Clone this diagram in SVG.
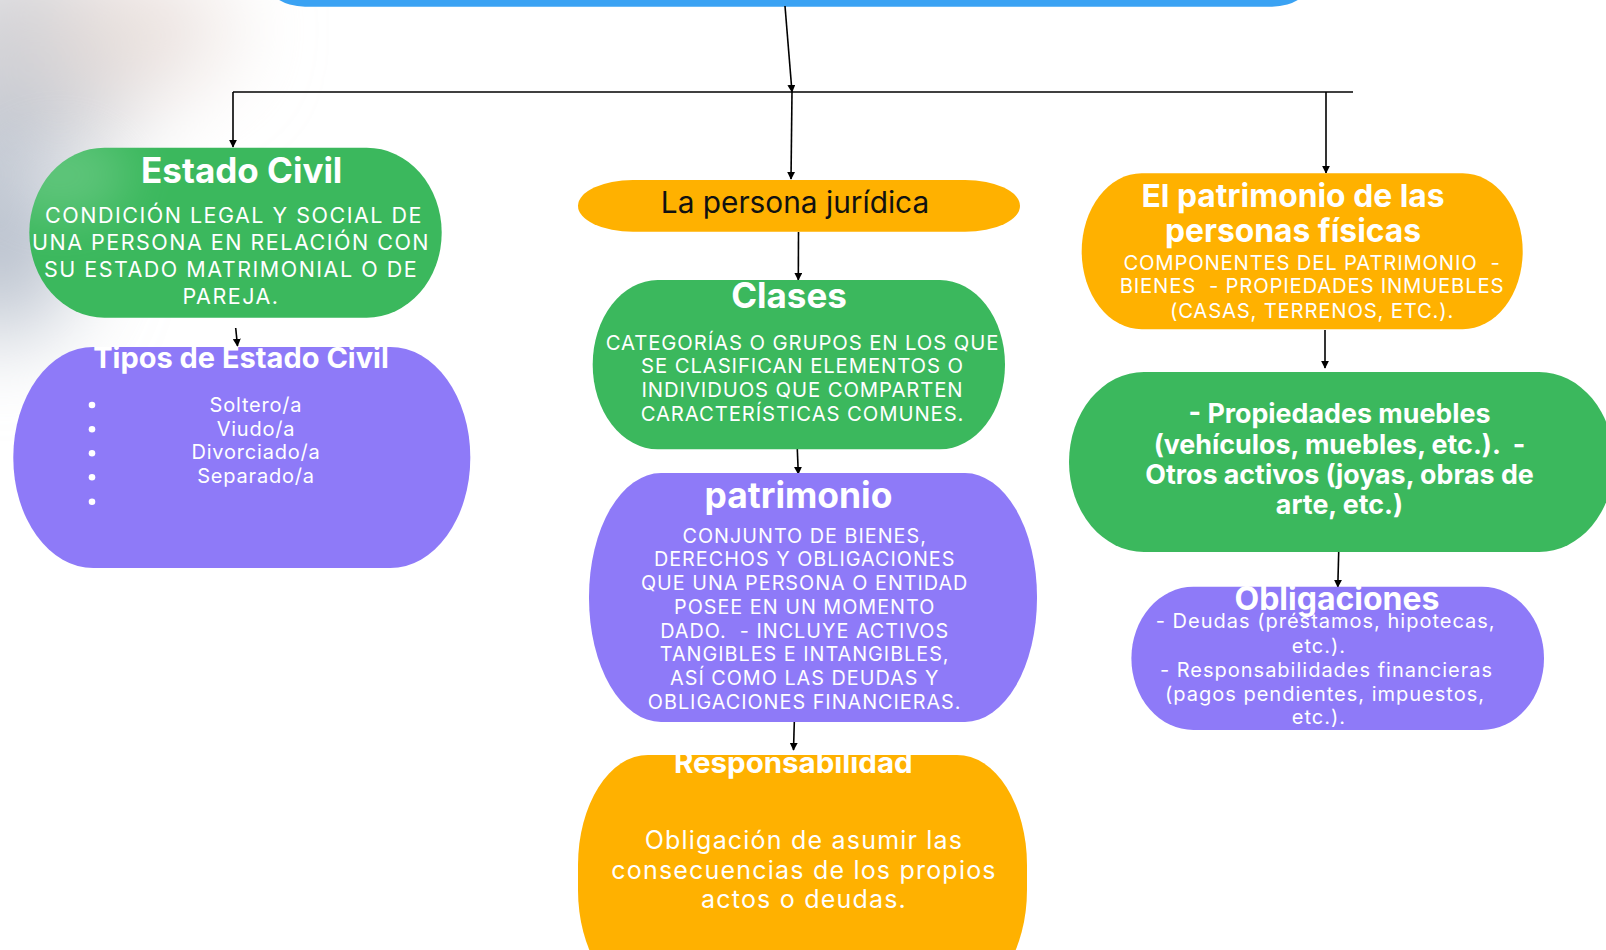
<svg xmlns="http://www.w3.org/2000/svg" width="1606" height="950" viewBox="0 0 1606 950">
<defs>
<style>
.t{font-family:Inter,"Noto Sans",sans-serif;font-weight:700;fill:#fff;text-anchor:middle}
.b{font-family:Inter,"Noto Sans",sans-serif;font-weight:400;fill:#fff;text-anchor:middle;white-space:pre}
.ln{stroke:#000;stroke-width:1.6;fill:none}
.ar{stroke:#000;stroke-width:1.6;fill:none;marker-end:url(#ah)}
.g{fill:#3BB85D}.p{fill:#8E7AF8}.o{fill:#FFB100}
</style>
<marker id="ah" viewBox="0 0 10 10" refX="9" refY="5" markerWidth="8" markerHeight="8" markerUnits="userSpaceOnUse" orient="auto">
<path d="M0,0 L10,5 L0,10 z" fill="#000"/>
</marker>
<filter id="blur" x="-100%" y="-100%" width="300%" height="300%"><feGaussianBlur stdDeviation="45"/></filter>
<filter id="blur2" x="-100%" y="-100%" width="300%" height="300%"><feGaussianBlur stdDeviation="25"/></filter>
</defs>
<rect width="1606" height="950" fill="#fff"/>
<g id="background" filter="url(#blur)">
<ellipse cx="30" cy="60" rx="120" ry="110" fill="#D2D2D6"/>
<ellipse cx="140" cy="30" rx="90" ry="55" fill="#E9DFDB"/>
<ellipse cx="0" cy="220" rx="80" ry="120" fill="#B9C1CD"/>
</g>
<g id="top-node"><rect x="265" y="-50" width="1047" height="56.7" rx="40" ry="40" fill="#3AA2F3"/></g>
<g id="connectors">
<line class="ar" x1="785" y1="6" x2="792" y2="92"/>
<line class="ln" x1="233" y1="92" x2="1353" y2="92"/>
<line class="ar" x1="792" y1="92" x2="791" y2="179"/>
<line class="ar" x1="233" y1="92" x2="233" y2="147"/>
<line class="ar" x1="1326" y1="92" x2="1326" y2="173"/>
<line class="ar" x1="235.7" y1="328" x2="237.5" y2="346"/>
<line class="ar" x1="798.5" y1="232" x2="798.3" y2="280"/>
<line class="ar" x1="797.3" y1="449" x2="798.3" y2="474"/>
<line class="ar" x1="794.3" y1="722" x2="793.5" y2="750"/>
<line class="ar" x1="1325" y1="330" x2="1325" y2="368"/>
<line class="ar" x1="1338.7" y1="552" x2="1337.8" y2="587"/>
</g>
<g id="estado-civil">
<rect class="g" x="29.3" y="147.7" width="412.4" height="170" rx="75" ry="85"/>
<ellipse cx="60" cy="175" rx="70" ry="45" fill="#fff" opacity="0.18" filter="url(#blur2)"/>
<text class="t" x="241.7" y="183.3" font-size="35">Estado Civil</text>
<text class="b" font-size="21.5" letter-spacing="1.5"><tspan x="234" y="223.3">CONDICIÓN LEGAL Y SOCIAL DE</tspan><tspan x="231" y="250.3">UNA PERSONA EN RELACIÓN CON</tspan><tspan x="231" y="277.3">SU ESTADO MATRIMONIAL O DE</tspan><tspan x="231" y="304.3">PAREJA.</tspan></text>
</g>
<g id="tipos-estado-civil">
<rect class="p" x="13.3" y="347" width="457" height="221" rx="80" ry="110"/>
<text class="t" x="241" y="368" font-size="29">Tipos de Estado Civil</text>
<g fill="#fff"><circle cx="92" cy="405" r="3.3"/><circle cx="92" cy="429.3" r="3.3"/><circle cx="92" cy="453.3" r="3.3"/><circle cx="92" cy="477.3" r="3.3"/><circle cx="92" cy="501.7" r="3.3"/></g>
<text class="b" font-size="20" letter-spacing="0.8"><tspan x="256" y="411.7">Soltero/a</tspan><tspan x="256" y="436">Viudo/a</tspan><tspan x="256" y="459.3">Divorciado/a</tspan><tspan x="256" y="483.3">Separado/a</tspan></text>
</g>
<g id="persona-juridica">
<rect class="o" x="578" y="180" width="442" height="51.7" rx="55" ry="25.8"/>
<text x="795" y="213.3" font-family="Inter,'Noto Sans',sans-serif" font-size="29.8" fill="#111" text-anchor="middle">La persona jurídica</text>
</g>
<g id="clases">
<rect class="g" x="592.7" y="280" width="412.3" height="169.3" rx="65" ry="84.6"/>
<text class="t" x="789" y="308.3" font-size="35">Clases</text>
<text class="b" font-size="20.3" letter-spacing="0.9"><tspan x="802.5" y="350">CATEGORÍAS O GRUPOS EN LOS QUE</tspan><tspan x="802.5" y="373.3">SE CLASIFICAN ELEMENTOS O</tspan><tspan x="802.5" y="397.3">INDIVIDUOS QUE COMPARTEN</tspan><tspan x="802.5" y="420.7">CARACTERÍSTICAS COMUNES.</tspan></text>
</g>
<g id="patrimonio">
<rect class="p" x="589" y="473" width="448" height="249" rx="72" ry="124"/>
<text class="t" x="798.5" y="508" font-size="35.4">patrimonio</text>
<text class="b" font-size="19.8" letter-spacing="1"><tspan x="804.7" y="542.7">CONJUNTO DE BIENES,</tspan><tspan x="804.7" y="566.3">DERECHOS Y OBLIGACIONES</tspan><tspan x="804.7" y="590">QUE UNA PERSONA O ENTIDAD</tspan><tspan x="804.7" y="613.7">POSEE EN UN MOMENTO</tspan><tspan x="804.7" y="637.5">DADO.  - INCLUYE ACTIVOS</tspan><tspan x="804.7" y="661.3">TANGIBLES E INTANGIBLES,</tspan><tspan x="804.7" y="685">ASÍ COMO LAS DEUDAS Y</tspan><tspan x="804.7" y="708.7">OBLIGACIONES FINANCIERAS.</tspan></text>
</g>
<g id="responsabilidad">
<rect class="o" x="578" y="755" width="449" height="245" rx="70" ry="110"/>
<text class="t" x="793.3" y="773.3" font-size="29.5">Responsabilidad</text>
<text class="b" font-size="25" letter-spacing="1.2"><tspan x="804" y="849.3">Obligación de asumir las</tspan><tspan x="804" y="879.3">consecuencias de los propios</tspan><tspan x="804" y="908.3">actos o deudas.</tspan></text>
</g>
<g id="patrimonio-personas-fisicas">
<rect class="o" x="1081.7" y="173.3" width="441" height="156" rx="60" ry="78"/>
<text class="t" font-size="31.8"><tspan x="1293" y="206.7">El patrimonio de las</tspan><tspan x="1293" y="242.3">personas físicas</tspan></text>
<text class="b" font-size="20.3" letter-spacing="0.8"><tspan x="1312" y="270">COMPONENTES DEL PATRIMONIO  -</tspan><tspan x="1312" y="293.3">BIENES  - PROPIEDADES INMUEBLES</tspan><tspan x="1312" y="317.7">(CASAS, TERRENOS, ETC.).</tspan></text>
</g>
<g id="propiedades-muebles">
<rect class="g" x="1069" y="372" width="545" height="180" rx="75" ry="90"/>
<text class="t" font-size="26.8" style="white-space:pre"><tspan x="1339.5" y="423.3">- Propiedades muebles</tspan><tspan x="1339.5" y="454">(vehículos, muebles, etc.).  -</tspan><tspan x="1339.5" y="484">Otros activos (joyas, obras de</tspan><tspan x="1339.5" y="514">arte, etc.)</tspan></text>
</g>
<g id="obligaciones">
<rect class="p" x="1131.4" y="586.7" width="412.6" height="143.3" rx="62" ry="71.6"/>
<text class="t" x="1337" y="610" font-size="32">Obligaciones</text>
<text class="b" font-size="20" letter-spacing="1"><tspan x="1325.7" y="628">- Deudas (préstamos, hipotecas,</tspan><tspan x="1319" y="652.7">etc.).</tspan><tspan x="1326.5" y="676.7">- Responsabilidades financieras</tspan><tspan x="1325" y="700.7">(pagos pendientes, impuestos,</tspan><tspan x="1319" y="724.3">etc.).</tspan></text>
</g>
</svg>
